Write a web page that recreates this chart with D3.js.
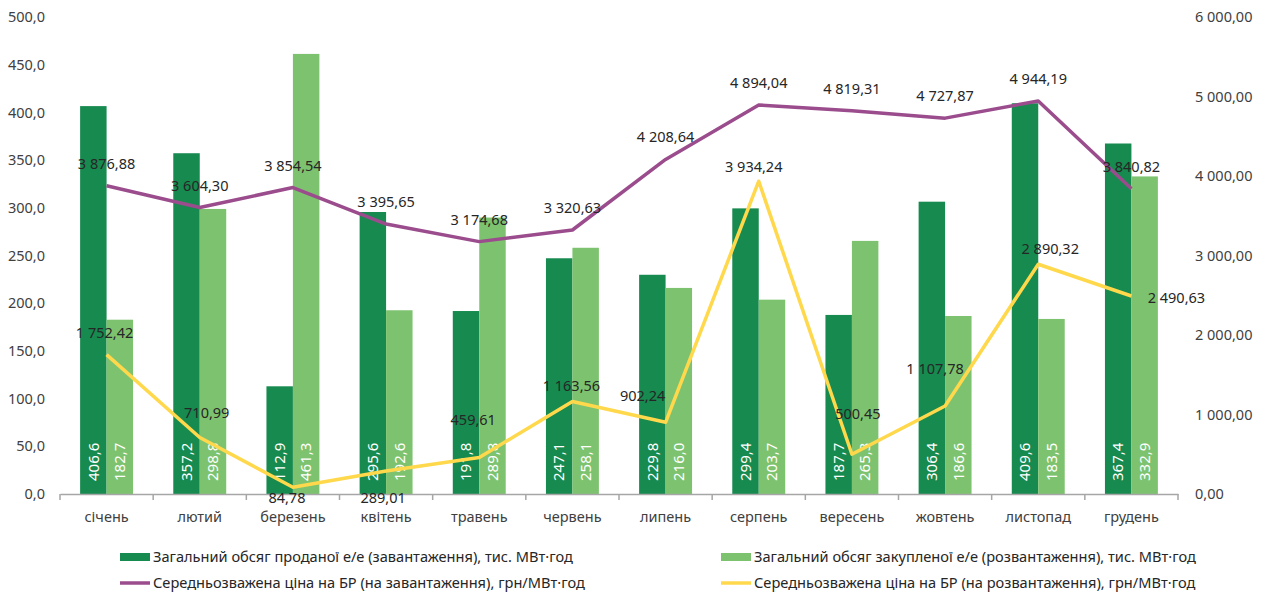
<!DOCTYPE html>
<html>
<head>
<meta charset="utf-8">
<script src="https://cdn.jsdelivr.net/npm/d3@7"></script>
<style>
  body { margin: 0; background: #fff; }
  text { font-family: "Noto Sans", "Open Sans", sans-serif; }
</style>
</head>
<body>
<div id="chart"></div>
<script>
const months = ['січень', 'лютий', 'березень', 'квітень', 'травень', 'червень',
    'липень', 'серпень', 'вересень', 'жовтень', 'листопад', 'грудень'];
// тис. МВт·год
const soldVolume = [406.6, 357.2, 112.9, 295.6, 191.8, 247.1, 229.8, 299.4, 187.7, 306.4, 409.6, 367.4];
const boughtVolume = [182.7, 298.8, 461.3, 192.6, 289.8, 258.1, 216.0, 203.7, 265.3, 186.6, 183.5, 332.9];
// грн/МВт·год
const upPrice = [3876.88, 3604.30, 3854.54, 3395.65, 3174.68, 3320.63, 4208.64, 4894.04, 4819.31, 4727.87, 4944.19, 3840.82];
const downPrice = [1752.42, 710.99, 84.78, 289.01, 459.61, 1163.56, 902.24, 3934.24, 500.45, 1107.78, 2890.32, 2490.63];

const leftTicks = [0, 50, 100, 150, 200, 250, 300, 350, 400, 450, 500];
const rightTicks = [0, 1000, 2000, 3000, 4000, 5000, 6000];

const legendNames = [
    'Загальний обсяг проданої е/е (завантаження), тис. МВт·год',
    'Загальний обсяг закупленої е/е (розвантаження), тис. МВт·год',
    'Середньозважена ціна на БР (на завантаження), грн/МВт·год',
    'Середньозважена ціна на БР (на розвантаження), грн/МВт·год'
];

// label nudges for the yellow line (moved by hand in the original)
const downLabelShift = [[-2, -22], [7, -25], [-6, 11], [-3, 27], [-6, -38], [-1, -16],
    [-23, -26], [-5, -14], [6, -40], [-10, -37], [12, -15], [45, 2]];

const colors = { sold: '#178a4f', bought: '#7dc36f', up: '#9b4c8d', down: '#ffd84c' };

const width = 1268;
const height = 593;

const locale = d3.formatLocale({ decimal: ',', thousands: ' ', grouping: [3], currency: ['', ''] });
const fmt1 = locale.format(',.1f');
const fmt2 = locale.format(',.2f');

const svg = d3.select('#chart')
    .append('svg')
    .attr('width', width)
    .attr('height', height);

const x = d3.scaleBand()
    .domain(months)
    .range([60, 1178]);

const xSub = d3.scaleBand()
    .domain(['sold', 'bought'])
    .range([0, x.bandwidth()])
    .paddingOuter(0.76);

const yL = d3.scaleLinear().domain([0, 500]).range([494, 17]);
const yR = d3.scaleLinear().domain([0, 6000]).range([494, 17]);

// left axis
svg.append('g')
    .attr('transform', 'translate(50,0)')
    .call(d3.axisLeft(yL).tickValues(leftTicks).tickSize(0).tickPadding(5).tickFormat(fmt1))
    .call(g => g.select('.domain').remove())
    .selectAll('text')
    .attr('font-size', 14.5)
    .attr('fill', '#404040');

// right axis
svg.append('g')
    .attr('transform', 'translate(1178,0)')
    .call(d3.axisRight(yR).tickValues(rightTicks).tickSize(0).tickPadding(17).tickFormat(fmt2))
    .call(g => g.select('.domain').remove())
    .selectAll('text')
    .attr('font-size', 14.5)
    .attr('fill', '#404040');

// bars
const rows = months.map((m, i) => ({ month: m, sold: soldVolume[i], bought: boughtVolume[i] }));

const group = svg.selectAll('.month')
    .data(rows)
    .enter().append('g')
    .attr('class', 'month')
    .attr('transform', d => `translate(${x(d.month)},0)`);

group.selectAll('rect')
    .data(d => ['sold', 'bought'].map(k => ({ key: k, value: d[k] })))
    .enter().append('rect')
    .attr('x', d => xSub(d.key))
    .attr('y', d => yL(d.value))
    .attr('width', xSub.bandwidth())
    .attr('height', d => yL(0) - yL(d.value))
    .attr('fill', d => colors[d.key]);

group.selectAll('.bar-label')
    .data(d => ['sold', 'bought'].map(k => ({ key: k, value: d[k] })))
    .enter().append('text')
    .attr('class', 'bar-label')
    .attr('transform', d => `translate(${xSub(d.key) + xSub.bandwidth() / 2},481) rotate(-90)`)
    .attr('dy', '0.35em')
    .attr('font-size', 15)
    .attr('fill', '#fff')
    .text(d => fmt1(d.value));

// x axis
const xAxis = svg.append('g')
    .attr('transform', 'translate(0,494)')
    .call(d3.axisBottom(x).tickSize(0).tickPadding(18));
xAxis.select('.domain').attr('stroke', '#a6a6a6').attr('stroke-width', 1.5);
xAxis.selectAll('text').attr('font-size', 14.5).attr('fill', '#404040');
xAxis.selectAll('.edge')
    .data(months.map(m => x(m)).concat([x.range()[1]]))
    .enter().append('line')
    .attr('class', 'edge')
    .attr('x1', d => d).attr('x2', d => d)
    .attr('y1', 0).attr('y2', 6)
    .attr('stroke', '#a6a6a6')
    .attr('stroke-width', 1.5);

// lines
const cx = i => x(months[i]) + x.bandwidth() / 2;

const line = d3.line()
    .x((d, i) => cx(i))
    .y(d => yR(d));

svg.append('path')
    .datum(upPrice)
    .attr('d', line)
    .attr('fill', 'none')
    .attr('stroke', colors.up)
    .attr('stroke-width', 3.5)
    .attr('stroke-linejoin', 'round');

svg.append('path')
    .datum(downPrice)
    .attr('d', line)
    .attr('fill', 'none')
    .attr('stroke', colors.down)
    .attr('stroke-width', 3.5)
    .attr('stroke-linejoin', 'round');

svg.selectAll('.up-label')
    .data(upPrice)
    .enter().append('text')
    .attr('class', 'up-label')
    .attr('x', (d, i) => cx(i))
    .attr('y', d => yR(d) - 22)
    .attr('dy', '0.35em')
    .attr('text-anchor', 'middle')
    .attr('font-size', 14.5)
    .attr('fill', '#262626')
    .text(d => fmt2(d));

svg.selectAll('.down-label')
    .data(downPrice)
    .enter().append('text')
    .attr('class', 'down-label')
    .attr('x', (d, i) => cx(i) + downLabelShift[i][0])
    .attr('y', (d, i) => yR(d) + downLabelShift[i][1])
    .attr('dy', '0.35em')
    .attr('text-anchor', 'middle')
    .attr('font-size', 14.5)
    .attr('fill', '#262626')
    .text(d => fmt2(d));

// legend
const legend = svg.append('g').attr('class', 'legend');
const legendPos = [[120, 557], [721, 557], [120, 583], [721, 583]];
const legendColors = [colors.sold, colors.bought, colors.up, colors.down];

legendNames.forEach((name, i) => {
    const [lx, ly] = legendPos[i];
    if (i < 2) {
        legend.append('rect')
            .attr('x', lx).attr('y', ly - 4)
            .attr('width', 30).attr('height', 8)
            .attr('fill', legendColors[i]);
    } else {
        legend.append('line')
            .attr('x1', lx).attr('x2', lx + 30)
            .attr('y1', ly).attr('y2', ly)
            .attr('stroke', legendColors[i])
            .attr('stroke-width', 3.5);
    }
    legend.append('text')
        .attr('x', lx + 33)
        .attr('y', ly)
        .attr('dy', '0.35em')
        .attr('font-size', 14.6)
        .attr('fill', '#262626')
        .text(name);
});
</script>
</body>
</html>
